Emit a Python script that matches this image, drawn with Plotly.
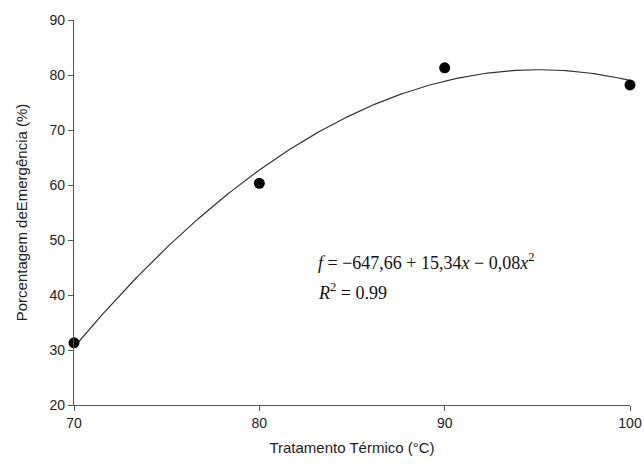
import numpy as np
import plotly.graph_objects as go

temperatura = [70, 80, 90, 100]
emergencia = [31.3, 60.3, 81.3, 78.2]
x_ticks = [70, 80, 90, 100]
y_ticks = [20, 30, 40, 50, 60, 70, 80, 90]

coef = np.polyfit(temperatura, emergencia, 2)
xs = np.linspace(70, 100, 200)
ys = np.polyval(coef, xs)

fig = go.Figure()
fig.add_trace(go.Scatter(x=xs, y=ys, mode="lines",
                         line=dict(color="#333333", width=1.2),
                         hoverinfo="skip", showlegend=False))
fig.add_trace(go.Scatter(x=temperatura, y=emergencia, mode="markers",
                         marker=dict(color="black", size=11),
                         cliponaxis=False, showlegend=False))

axis_common = dict(showline=True, linecolor="#555555", linewidth=1.2,
                   ticks="outside", tickcolor="#555555", ticklen=5,
                   showgrid=False, zeroline=False, automargin=False,
                   tickfont=dict(family="Liberation Sans, Arial", size=14, color="#222222"))

fig.update_xaxes(range=[70, 100], tickvals=x_ticks,
                 title=dict(text="Tratamento Térmico (°C)",
                            font=dict(family="Liberation Sans, Arial", size=15, color="#222222"),
                            standoff=12),
                 **axis_common)
fig.update_yaxes(range=[20, 90], tickvals=y_ticks,
                 title=dict(text="Porcentagem deEmergência (%)",
                            font=dict(family="Liberation Sans, Arial", size=15, color="#222222"),
                            standoff=18),
                 **axis_common)

fig.add_annotation(x=0.436, y=0.372, xref="paper", yref="paper",
                   xanchor="left", yanchor="middle", showarrow=False,
                   text="<i>f</i> = −647,66 + 15,34<i>x</i> − 0,08<i>x</i><sup>2</sup>",
                   font=dict(family="Liberation Serif, Times New Roman", size=18, color="#111111"))
fig.add_annotation(x=0.436, y=0.296, xref="paper", yref="paper",
                   xanchor="left", yanchor="middle", showarrow=False,
                   text="<i>R</i><sup>2</sup> = 0.99",
                   font=dict(family="Liberation Serif, Times New Roman", size=18, color="#111111"))

fig.update_layout(width=644, height=468,
                  margin=dict(l=74, r=14, t=20, b=63),
                  plot_bgcolor="white", paper_bgcolor="white")

fig.write_html("out.html", config={"displayModeBar": False},
               post_script="document.body.style.margin='0';")
